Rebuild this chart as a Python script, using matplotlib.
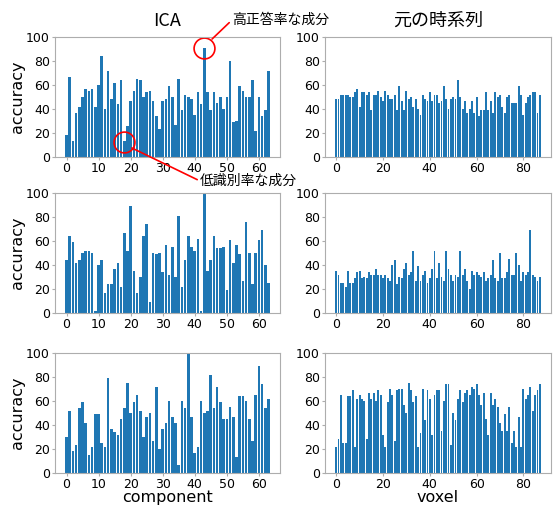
import numpy as np
import matplotlib
matplotlib.use('Agg')
import matplotlib.pyplot as plt

# ICA component accuracies (64 components)
ica_1 = [18, 67, 13, 37, 42, 50, 57, 55, 57, 42, 60, 84, 40, 72, 48, 62,
         44, 64, 13, 26, 47, 55, 65, 64, 50, 54, 55, 47, 34, 23, 47, 48,
         59, 50, 27, 65, 39, 52, 50, 48, 35, 54, 44, 91, 54, 39, 54, 45,
         50, 40, 50, 80, 29, 30, 59, 55, 50, 50, 64, 22, 50, 34, 39, 72]
ica_2 = [44, 64, 59, 42, 44, 50, 52, 52, 50, 2, 40, 44, 17, 24, 24, 37,
         42, 22, 67, 52, 89, 35, 17, 30, 64, 74, 9, 50, 49, 50, 34, 57,
         32, 55, 30, 81, 22, 44, 64, 55, 52, 62, 2, 99, 35, 44, 64, 54,
         54, 55, 19, 61, 42, 57, 49, 27, 76, 50, 24, 50, 61, 69, 40, 25]
ica_3 = [30, 52, 18, 23, 54, 59, 42, 15, 22, 49, 49, 25, 22, 79, 37, 34,
         32, 45, 54, 75, 50, 59, 65, 52, 30, 47, 50, 27, 72, 20, 37, 42,
         60, 47, 42, 7, 60, 54, 100, 47, 17, 22, 60, 50, 52, 82, 54, 72,
         59, 45, 45, 55, 47, 13, 64, 64, 60, 45, 27, 65, 89, 74, 54, 62]

# original voxel time-series accuracies (88 voxels)
vox_1 = [48, 48, 52, 52, 52, 52, 50, 50, 54, 57, 42, 54, 54, 52, 54, 39,
         52, 52, 55, 50, 47, 55, 52, 48, 48, 52, 39, 59, 47, 39, 55, 48,
         50, 42, 48, 40, 35, 52, 48, 47, 54, 47, 52, 52, 45, 47, 59, 48,
         40, 48, 50, 48, 64, 50, 40, 47, 37, 40, 47, 37, 50, 34, 39, 39,
         54, 39, 47, 37, 54, 50, 52, 42, 37, 50, 52, 45, 45, 45, 59, 52,
         35, 45, 50, 52, 54, 54, 37, 52]
vox_2 = [35, 32, 25, 25, 22, 35, 25, 25, 29, 34, 35, 29, 30, 29, 34, 32,
         32, 37, 32, 32, 29, 32, 29, 27, 40, 44, 24, 30, 29, 37, 42, 32,
         34, 52, 27, 39, 27, 32, 35, 25, 29, 37, 52, 29, 42, 30, 27, 52,
         37, 32, 27, 32, 30, 52, 32, 37, 27, 20, 35, 32, 34, 32, 30, 34,
         27, 29, 32, 44, 29, 27, 50, 29, 29, 34, 45, 32, 32, 50, 40, 27,
         34, 32, 34, 69, 32, 30, 27, 30]
vox_3 = [22, 28, 65, 25, 25, 64, 64, 69, 22, 62, 65, 62, 60, 28, 67, 62,
         67, 60, 69, 65, 32, 22, 59, 70, 65, 27, 69, 70, 70, 57, 50, 75,
         69, 59, 64, 22, 33, 70, 44, 69, 62, 32, 65, 69, 69, 35, 60, 74,
         74, 23, 50, 44, 62, 69, 59, 67, 69, 65, 72, 70, 74, 65, 57, 67,
         45, 32, 67, 57, 62, 55, 42, 35, 49, 35, 55, 25, 35, 22, 47, 22,
         70, 62, 65, 72, 52, 65, 69, 74]

ica_rows = [ica_1, ica_2, ica_3]
vox_rows = [vox_1, vox_2, vox_3]

W, H = 553, 507
fig = plt.figure(figsize=(W / 100, H / 100), dpi=100)

lefts = [55 / W, 325 / W]
widths = [225 / W, 226 / W]
bottoms = [(H - 157) / H, (H - 313) / H, (H - 473) / H]
height = 120 / H

tick_fs = 9
label_fs = 11.5
jp = ['Noto Sans CJK JP', 'DejaVu Sans']

axes = []
for r in range(3):
    row = []
    for c in range(2):
        ax = fig.add_axes([lefts[c], bottoms[r], widths[c], height])
        vals = ica_rows[r] if c == 0 else vox_rows[r]
        ax.bar(np.arange(len(vals)), vals, color='#1f77b4', width=0.8)
        ax.set_ylim(0, 100)
        ax.set_yticks([0, 20, 40, 60, 80, 100])
        if c == 0:
            ax.set_xticks([0, 10, 20, 30, 40, 50, 60])
        else:
            ax.set_xticks([0, 20, 40, 60, 80])
        for s in ax.spines.values():
            s.set_color('0.68')
        ax.tick_params(labelsize=tick_fs, color='0.68', length=2.5, pad=1.2)
        if c == 0:
            ax.set_ylabel('accuracy', fontsize=label_fs, labelpad=0.5)
        row.append(ax)
    axes.append(row)

axes[0][0].set_title('ICA', fontsize=13, family=jp, pad=8)
axes[0][1].set_title('元の時系列', fontsize=13, family=jp, pad=8)
axes[2][0].set_xlabel('component', fontsize=label_fs, labelpad=-0.5)
axes[2][1].set_xlabel('voxel', fontsize=label_fs, labelpad=-0.5)

ax = axes[0][0]
# circles marking the high / low components
ax.plot([43], [90.8], 'o', ms=15, mfc='none', mec='red', mew=1.2, clip_on=False)
ax.plot([18], [12.5], 'o', ms=15, mfc='none', mec='red', mew=1.2, clip_on=False)
ax.annotate('高正答率な成分', xy=(45.4, 98.3), xycoords='data',
            xytext=(232, H - 20), textcoords='figure pixels',
            ha='left', va='center', fontsize=10, family=jp,
            arrowprops=dict(arrowstyle='-', color='red', lw=1.2,
                            shrinkA=0, shrinkB=0, relpos=(0, 0.5)),
            annotation_clip=False)
ax.annotate('低識別率な成分', xy=(20.4, 7.5), xycoords='data',
            xytext=(200, H - 181), textcoords='figure pixels',
            ha='left', va='center', fontsize=10, family=jp,
            arrowprops=dict(arrowstyle='-', color='red', lw=1.2,
                            shrinkA=0, shrinkB=0, relpos=(0, 0.5)),
            annotation_clip=False)

fig.savefig('out.png', dpi=100)
